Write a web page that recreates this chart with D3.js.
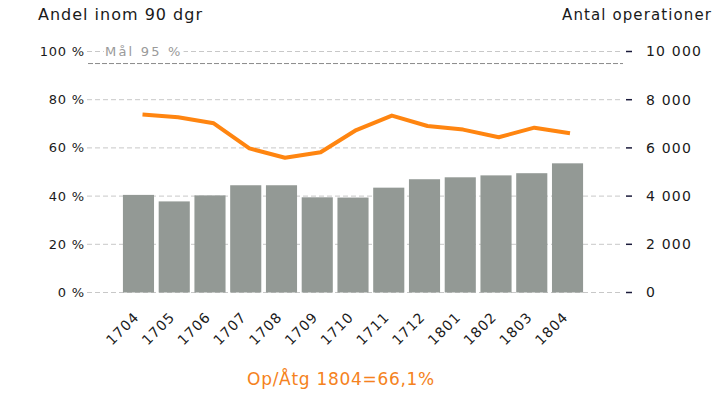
<!DOCTYPE html>
<html lang="sv">
<head>
    <meta charset="UTF-8">
    <title>Andel inom 90 dgr</title>
    <script src="https://d3js.org/d3.v7.min.js"></script>
    <style>
        body { margin: 0; background: white; font-family: "DejaVu Sans", sans-serif; }
        svg text { fill: #1a1a1a; }
    </style>
</head>
<body>
    <div id="chart"></div>
    <script>
        // Data
        const months = ["1704", "1705", "1706", "1707", "1708", "1709", "1710", "1711", "1712", "1801", "1802", "1803", "1804"];
        const operations = [4050, 3780, 4030, 4450, 4450, 3950, 3940, 4350, 4700, 4780, 4860, 4950, 5360];
        const share = [73.9, 72.7, 70.2, 59.8, 55.9, 58.2, 67.4, 73.4, 69.1, 67.6, 64.4, 68.4, 66.1];
        const leftTicks = [0, 20, 40, 60, 80, 100];
        const rightTicks = [0, 2000, 4000, 6000, 8000, 10000];
        const goal = 95;

        const width = 726, height = 403;
        const plot = { left: 87, right: 623, top: 51.5, bottom: 292.5 };

        const svg = d3.select("#chart")
            .append("svg")
            .attr("width", width)
            .attr("height", height);

        const x = d3.scaleBand()
            .domain(months)
            .range([120.6, 585.4])
            .paddingInner(0.13)
            .paddingOuter(0.065);

        const xLine = d3.scalePoint()
            .domain(months)
            .range([142.5, 570]);

        const yLeft = d3.scaleLinear().domain([0, 100]).range([plot.bottom, plot.top]);
        const yRight = d3.scaleLinear().domain([0, 10000]).range([plot.bottom, plot.top]);

        const sv = d3.formatLocale({ decimal: ",", thousands: " ", grouping: [3], currency: ["", ""] });
        const fmt = sv.format(",");

        // grid lines
        svg.selectAll(".grid")
            .data(leftTicks)
            .enter()
            .append("line")
            .attr("class", "grid")
            .attr("x1", plot.left)
            .attr("x2", plot.right)
            .attr("y1", d => yLeft(d))
            .attr("y2", d => yLeft(d))
            .attr("stroke", "#c8c8c8")
            .attr("stroke-width", 1)
            .attr("stroke-dasharray", "5,3");

        // bars
        svg.selectAll(".bar")
            .data(months)
            .enter()
            .append("rect")
            .attr("class", "bar")
            .attr("x", d => x(d))
            .attr("width", x.bandwidth())
            .attr("y", (d, i) => yRight(operations[i]))
            .attr("height", (d, i) => plot.bottom - yRight(operations[i]))
            .attr("fill", "#939995");

        // goal line
        svg.append("line")
            .attr("x1", plot.left + 1)
            .attr("x2", plot.right)
            .attr("y1", yLeft(goal))
            .attr("y2", yLeft(goal))
            .attr("stroke", "#8a8a8a")
            .attr("stroke-width", 1)
            .attr("stroke-dasharray", "5,2");

        const goalLabel = svg.append("text")
            .attr("x", 105)
            .attr("y", yLeft(100))
            .attr("dy", "0.35em")
            .attr("font-size", "13px")
            .attr("letter-spacing", "2.2px")
            .style("fill", "#9a9a9a")
            .text("Mål 95 %");
        const gb = goalLabel.node().getBBox();
        svg.insert("rect", "text")
            .attr("x", gb.x - 1)
            .attr("y", gb.y)
            .attr("width", gb.width + 2)
            .attr("height", gb.height)
            .attr("fill", "white");

        // share line
        const line = d3.line()
            .x((d, i) => xLine(months[i]))
            .y(d => yLeft(d));

        svg.append("path")
            .datum(share)
            .attr("d", line)
            .attr("fill", "none")
            .attr("stroke", "#ff8510")
            .attr("stroke-width", 4)
            .attr("stroke-linejoin", "round");

        // left axis labels
        svg.selectAll(".ylabel")
            .data(leftTicks)
            .enter()
            .append("text")
            .attr("class", "ylabel")
            .attr("x", 85)
            .attr("y", d => yLeft(d))
            .attr("dy", "0.35em")
            .attr("text-anchor", "end")
            .attr("font-size", "13px")
            .attr("letter-spacing", "0.8px")
            .text(d => d + " %");

        // right axis ticks and labels
        svg.selectAll(".rtick")
            .data(rightTicks)
            .enter()
            .append("line")
            .attr("class", "rtick")
            .attr("x1", 626)
            .attr("x2", 632)
            .attr("y1", d => yRight(d))
            .attr("y2", d => yRight(d))
            .attr("stroke", "#1a1a3a")
            .attr("stroke-width", 1.5);

        svg.selectAll(".rlabel")
            .data(rightTicks)
            .enter()
            .append("text")
            .attr("class", "rlabel")
            .attr("x", 646)
            .attr("y", d => yRight(d))
            .attr("dy", "0.35em")
            .attr("font-size", "14px")
            .attr("letter-spacing", "1.2px")
            .text(d => fmt(d));

        // x labels
        svg.selectAll(".xlabel")
            .data(months)
            .enter()
            .append("text")
            .attr("class", "xlabel")
            .attr("transform", d => `translate(${x(d) + x.bandwidth() / 2 - 2},${plot.bottom + 22}) rotate(-45)`)
            .attr("text-anchor", "end")
            .attr("dy", "0.35em")
            .attr("font-size", "14px")
            .attr("letter-spacing", "1px")
            .text(d => d);

        // titles
        svg.append("text")
            .attr("x", 38)
            .attr("y", 20)
            .attr("font-size", "16px")
            .attr("letter-spacing", "1px")
            .text("Andel inom 90 dgr");

        svg.append("text")
            .attr("x", 712)
            .attr("y", 20)
            .attr("text-anchor", "end")
            .attr("font-size", "15px")
            .attr("letter-spacing", "1.1px")
            .text("Antal operationer");

        // caption
        svg.append("text")
            .attr("x", 341)
            .attr("y", 385)
            .attr("text-anchor", "middle")
            .attr("font-size", "17px")
            .attr("letter-spacing", "0.7px")
            .style("fill", "#f58220")
            .text("Op/Åtg 1804=" + String(share[share.length - 1]).replace(".", ",") + "%");
    </script>
</body>
</html>
